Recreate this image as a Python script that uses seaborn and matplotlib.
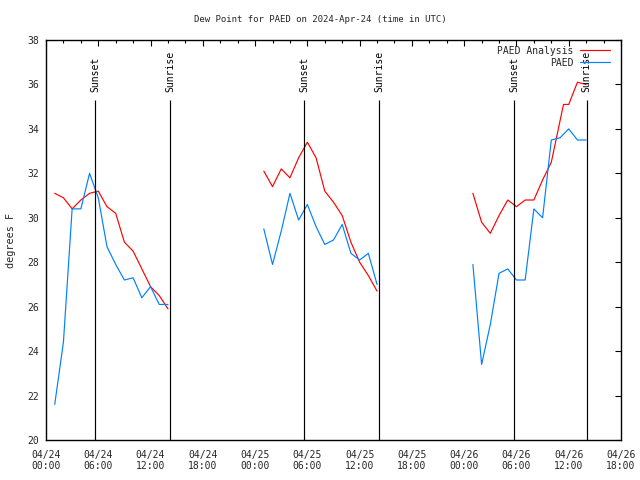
import numpy as np
import pandas as pd
import matplotlib
matplotlib.use("Agg")
import matplotlib.pyplot as plt
import matplotlib.dates as mdates
from matplotlib.lines import Line2D
import seaborn as sns

sns.set_theme(style="white")
plt.rcParams["font.family"] = ["DejaVu Sans Mono"]

# 일자별 자료 (UTC)
DAYS = ["2024-04-24", "2024-04-25", "2024-04-26"]
OBS_HOURS = [1, 2, 3, 4, 5, 6, 7, 8, 9, 10, 11, 12, 13, 14]
ANL_HOURS = [
    [1, 2, 3, 4, 5, 6, 7, 8, 9, 10, 11, 12, 13, 14],
    [1, 2, 3, 4, 5, 6, 7, 8, 9, 10, 11, 12, 13, 14],
    [1, 2, 3, 4, 5, 6, 7, 8, 9, 10, 11.4, 12, 13, 14],
]
PAED_OBS = [
    [21.6, 24.4, 30.4, 30.4, 32.0, 30.9, 28.7, 27.9, 27.2, 27.3, 26.4, 26.9, 26.1, 26.1],
    [29.5, 27.9, 29.4, 31.1, 29.9, 30.6, 29.6, 28.8, 29.0, 29.7, 28.4, 28.1, 28.4, 27.0],
    [27.9, 23.4, 25.2, 27.5, 27.7, 27.2, 27.2, 30.4, 30.0, 33.5, 33.6, 34.0, 33.5, 33.5],
]
PAED_ANL = [
    [31.1, 30.9, 30.4, 30.8, 31.1, 31.2, 30.5, 30.2, 28.9, 28.5, 27.7, 26.9, 26.5, 25.9],
    [32.1, 31.4, 32.2, 31.8, 32.7, 33.4, 32.7, 31.2, 30.7, 30.1, 28.9, 28.0, 27.4, 26.7],
    [31.1, 29.8, 29.3, 30.1, 30.8, 30.5, 30.8, 30.8, 31.7, 32.5, 35.1, 35.1, 36.1, 36.0],
]
SUNSET = ["2024-04-24 05:40", "2024-04-25 05:38", "2024-04-26 05:44"]
SUNRISE = ["2024-04-24 14:14", "2024-04-25 14:13", "2024-04-26 14:04"]

COLORS = {"PAED Analysis": "#ff0000", "PAED": "#0080ff"}

rows = []
for d, day in enumerate(DAYS):
    base = pd.Timestamp(day)
    for h, v in zip(ANL_HOURS[d], PAED_ANL[d]):
        rows.append((base + pd.Timedelta(hours=h), v, "PAED Analysis", d))
    for h, v in zip(OBS_HOURS, PAED_OBS[d]):
        rows.append((base + pd.Timedelta(hours=h), v, "PAED", d))
df = pd.DataFrame(rows, columns=["time", "dewpt", "series", "day"])

fig = plt.figure(figsize=(6.4, 4.8), dpi=100)
ax = fig.add_axes([46 / 640, 40 / 480, 575 / 640, 400 / 480])

sns.lineplot(data=df, x="time", y="dewpt", hue="series", units="day",
             estimator=None, sort=False, palette=COLORS, lw=0.85,
             legend=False, ax=ax)

# 일몰/일출 표시
for times, label in [(SUNSET, "Sunset"), (SUNRISE, "Sunrise")]:
    for t in pd.to_datetime(times):
        ax.vlines(t, 20, 35.3, color="black", lw=0.85)
        ax.text(t, 35.65, label, rotation=90, ha="center", va="bottom",
                fontsize=7, color="black")

ax.set_xlim(pd.Timestamp("2024-04-24 00:00"), pd.Timestamp("2024-04-26 18:00"))
ax.set_ylim(20, 38)
ax.set_yticks(np.arange(20, 39, 2))
ax.xaxis.set_major_locator(mdates.HourLocator(byhour=[0, 6, 12, 18]))
ax.xaxis.set_minor_locator(mdates.HourLocator(byhour=range(0, 24, 2)))
ax.xaxis.set_major_formatter(mdates.DateFormatter("%m/%d\n%H:%M"))

ax.tick_params(axis="both", which="both", direction="in", top=True, right=True,
               labelsize=7, color="black", width=0.8)
ax.tick_params(which="major", length=4)
ax.tick_params(which="minor", length=2.5)
ax.tick_params(axis="x", pad=7)
ax.tick_params(axis="y", pad=5)
for s in ax.spines.values():
    s.set_color("black")
    s.set_linewidth(1)

ax.set_xlabel("")
ax.set_ylabel("degrees F", fontsize=7.3, labelpad=8)
fig.text(0.5, 1 - 20 / 480, "Dew Point for PAED on 2024-Apr-24 (time in UTC)",
         ha="center", va="center", fontsize=6.5)

handles = [Line2D([], [], color=COLORS[k], lw=0.85) for k in COLORS]
ax.legend(handles, list(COLORS), loc="upper right",
          bbox_to_anchor=(0.981, 0.986), frameon=False, markerfirst=False,
          handlelength=3.1, handletextpad=0.65, borderpad=0, borderaxespad=0,
          labelspacing=0.2, fontsize=7)

fig.savefig("out.png", dpi=100)
